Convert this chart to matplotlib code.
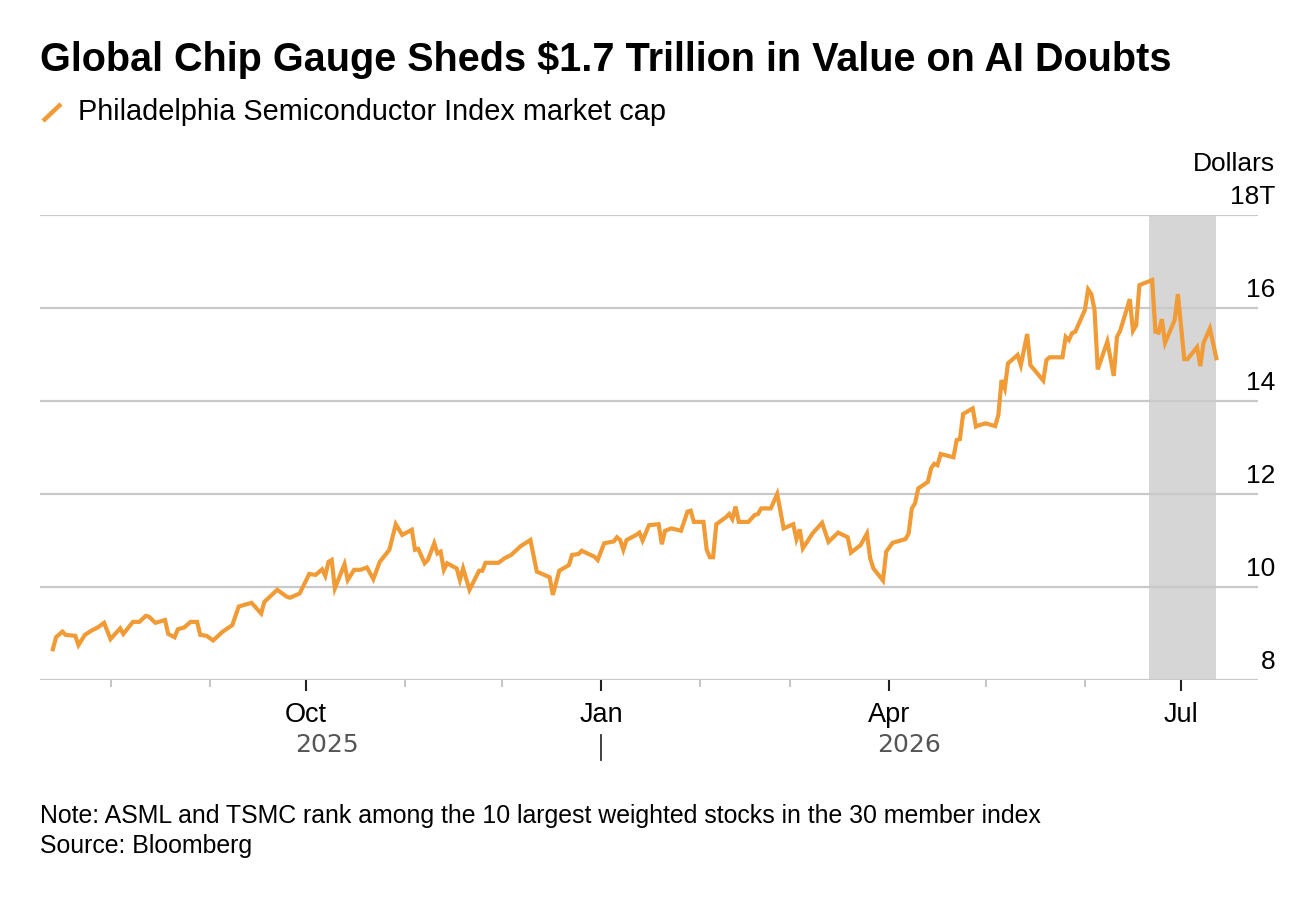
import matplotlib
matplotlib.use('Agg')
import matplotlib.pyplot as plt
import matplotlib.dates as mdates
import matplotlib.transforms as mtransforms
from matplotlib.lines import Line2D
import pandas as pd

# values (trillions of dollars)
dates = [
    '2025-07-14', '2025-07-15', '2025-07-17', '2025-07-18', '2025-07-21', '2025-07-22', '2025-07-24',
    '2025-07-26', '2025-07-28', '2025-07-30', '2025-08-01', '2025-08-04', '2025-08-05', '2025-08-08',
    '2025-08-10', '2025-08-12', '2025-08-13', '2025-08-15', '2025-08-18', '2025-08-19', '2025-08-21',
    '2025-08-22', '2025-08-24', '2025-08-26', '2025-08-28', '2025-08-29', '2025-08-31', '2025-09-02',
    '2025-09-05', '2025-09-08', '2025-09-10', '2025-09-14', '2025-09-17', '2025-09-18', '2025-09-22',
    '2025-09-25', '2025-09-26', '2025-09-29', '2025-10-02', '2025-10-04', '2025-10-06', '2025-10-07',
    '2025-10-08', '2025-10-09', '2025-10-10', '2025-10-13', '2025-10-14', '2025-10-16', '2025-10-18',
    '2025-10-20', '2025-10-22', '2025-10-24', '2025-10-27', '2025-10-29', '2025-10-31', '2025-11-03',
    '2025-11-04', '2025-11-05', '2025-11-07', '2025-11-08', '2025-11-10', '2025-11-11', '2025-11-12',
    '2025-11-13', '2025-11-14', '2025-11-17', '2025-11-18', '2025-11-19', '2025-11-21', '2025-11-24',
    '2025-11-25', '2025-11-26', '2025-11-30', '2025-12-02', '2025-12-04', '2025-12-07', '2025-12-10',
    '2025-12-12', '2025-12-16', '2025-12-17', '2025-12-19', '2025-12-22', '2025-12-23', '2025-12-25',
    '2025-12-26', '2025-12-30', '2025-12-31', '2026-01-02', '2026-01-05', '2026-01-06', '2026-01-07',
    '2026-01-08', '2026-01-09', '2026-01-12', '2026-01-13', '2026-01-14', '2026-01-16', '2026-01-19',
    '2026-01-20', '2026-01-21', '2026-01-23', '2026-01-26', '2026-01-28', '2026-01-29', '2026-01-30',
    '2026-02-02', '2026-02-03', '2026-02-04', '2026-02-05', '2026-02-06', '2026-02-09', '2026-02-10',
    '2026-02-11', '2026-02-12', '2026-02-13', '2026-02-16', '2026-02-18', '2026-02-19', '2026-02-20',
    '2026-02-23', '2026-02-25', '2026-02-27', '2026-03-02', '2026-03-03', '2026-03-04', '2026-03-05',
    '2026-03-08', '2026-03-11', '2026-03-13', '2026-03-16', '2026-03-19', '2026-03-20', '2026-03-23',
    '2026-03-25', '2026-03-26', '2026-03-27', '2026-03-30', '2026-03-31', '2026-04-02', '2026-04-06',
    '2026-04-07', '2026-04-08', '2026-04-09', '2026-04-10', '2026-04-13', '2026-04-14', '2026-04-15',
    '2026-04-16', '2026-04-17', '2026-04-21', '2026-04-22', '2026-04-23', '2026-04-24', '2026-04-27',
    '2026-04-28', '2026-04-29', '2026-05-01', '2026-05-04', '2026-05-05', '2026-05-06', '2026-05-07',
    '2026-05-08', '2026-05-11', '2026-05-12', '2026-05-14', '2026-05-15', '2026-05-19', '2026-05-20',
    '2026-05-21', '2026-05-25', '2026-05-26', '2026-05-27', '2026-05-28', '2026-05-29', '2026-06-01',
    '2026-06-02', '2026-06-03', '2026-06-04', '2026-06-05', '2026-06-08', '2026-06-10', '2026-06-11',
    '2026-06-12', '2026-06-15', '2026-06-16', '2026-06-17', '2026-06-18', '2026-06-19', '2026-06-22',
    '2026-06-23', '2026-06-24', '2026-06-25', '2026-06-26', '2026-06-29', '2026-06-30', '2026-07-02',
    '2026-07-03', '2026-07-06', '2026-07-07', '2026-07-08', '2026-07-10', '2026-07-12',
]
values = [
    8.66, 8.92, 9.04, 8.97, 8.95, 8.75, 8.97,
    9.06, 9.13, 9.23, 8.88, 9.11, 8.99, 9.25,
    9.25, 9.38, 9.36, 9.23, 9.29, 8.99, 8.92,
    9.09, 9.13, 9.25, 9.25, 8.97, 8.95, 8.85,
    9.04, 9.18, 9.58, 9.66, 9.43, 9.68, 9.94,
    9.79, 9.77, 9.86, 10.28, 10.26, 10.38, 10.24,
    10.54, 10.58, 9.97, 10.49, 10.15, 10.37, 10.37,
    10.42, 10.17, 10.54, 10.80, 11.35, 11.12, 11.23,
    10.80, 10.82, 10.51, 10.58, 10.94, 10.72, 10.76,
    10.37, 10.51, 10.40, 10.15, 10.40, 9.94, 10.35,
    10.35, 10.52, 10.52, 10.62, 10.69, 10.88, 11.01,
    10.33, 10.21, 9.83, 10.35, 10.47, 10.69, 10.71,
    10.78, 10.65, 10.58, 10.94, 10.98, 11.07, 11.01,
    10.80, 11.01, 11.12, 11.17, 11.00, 11.33, 11.35,
    10.92, 11.21, 11.26, 11.21, 11.62, 11.64, 11.40,
    11.40, 10.80, 10.64, 10.64, 11.35, 11.50, 11.57,
    11.46, 11.73, 11.40, 11.40, 11.55, 11.57, 11.69,
    11.69, 12.00, 11.26, 11.35, 11.03, 11.24, 10.83,
    11.15, 11.38, 10.97, 11.17, 11.07, 10.74, 10.90,
    11.15, 10.62, 10.40, 10.14, 10.76, 10.95, 11.03,
    11.15, 11.69, 11.80, 12.12, 12.26, 12.55, 12.65,
    12.62, 12.86, 12.79, 13.16, 13.18, 13.72, 13.84,
    13.45, 13.48, 13.52, 13.46, 13.70, 14.45, 14.27,
    14.81, 14.99, 14.77, 15.44, 14.77, 14.44, 14.88,
    14.94, 14.94, 15.38, 15.31, 15.46, 15.49, 15.96,
    16.40, 16.30, 15.96, 14.68, 15.28, 14.54, 15.38,
    15.51, 16.19, 15.51, 15.63, 16.49, 16.52, 16.60,
    15.49, 15.47, 15.76, 15.25, 15.74, 16.30, 14.90,
    14.90, 15.16, 14.75, 15.25, 15.56, 14.92,
]

shade_start = '2026-06-21'
shade_end = '2026-07-12'
y_ticks = [8, 10, 12, 14, 16, 18]
y_labels = ['8', '10', '12', '14', '16', '18T']
major_months = ['2025-10-01', '2026-01-01', '2026-04-01', '2026-07-01']
major_labels = ['Oct', 'Jan', 'Apr', 'Jul']
years = ['2025', '2026']

orange = '#F09B36'
grid_col = '#c9c9c9'

plt.rcParams['font.family'] = ['Liberation Sans', 'DejaVu Sans']

W, H = 1294, 902
fig = plt.figure(figsize=(W / 100, H / 100), dpi=100)
ax = fig.add_axes([40 / W, 1 - 680 / H, 1218 / W, 465 / H])

x = pd.to_datetime(dates)
ax.axvspan(pd.Timestamp(shade_start), pd.Timestamp(shade_end), color='#d6d6d6', lw=0, zorder=0)
for v in y_ticks:
    ax.axhline(v, color=grid_col, lw=1.6, zorder=1)
ax.plot(x, values, color=orange, lw=3.0, solid_joinstyle='miter', zorder=3)

ax.set_xlim(pd.Timestamp('2025-07-10'), pd.Timestamp('2026-07-25'))
ax.set_ylim(8, 18)
for s in ax.spines.values():
    s.set_visible(False)
ax.set_yticks([])

# month ticks
ax.set_xticks(pd.to_datetime(major_months))
ax.set_xticklabels(major_labels, fontsize=19.5)
ax.set_xticks(pd.date_range('2025-08-01', '2026-07-01', freq='MS'), minor=True)
ax.tick_params(axis='x', which='major', length=8, width=1.5, color='#222222', pad=8)
ax.tick_params(axis='x', which='minor', length=5, width=1.2, color='#bbbbbb')

# y labels sit above their gridlines at the right
tr = mtransforms.blended_transform_factory(ax.transAxes, ax.transData)
tr_lab = mtransforms.offset_copy(tr, fig=fig, x=0, y=11, units='dots')
for v, lab in zip(y_ticks, y_labels):
    ax.text(1.014, v, lab, transform=tr_lab, ha='right', va='baseline', fontsize=19)
tr_dol = mtransforms.offset_copy(tr, fig=fig, x=0, y=44, units='dots')
ax.text(1.014, 18, 'Dollars', transform=tr_dol, ha='right', va='baseline', fontsize=19)

# year labels centred on each year's data, divider under Jan
trx = mtransforms.blended_transform_factory(ax.transData, ax.transAxes)
x25 = x[x.year == 2025]
x26 = x[x.year == 2026]
jan = mdates.date2num(pd.Timestamp('2026-01-01'))
mid25 = (mdates.date2num(x25[0]) + jan) / 2
mid26 = (jan + mdates.date2num(x26[-1])) / 2
for xm, yr in zip([mid25, mid26], years):
    ax.text(xm, -0.14, yr, transform=trx, ha='center', va='center', fontsize=18,
            color='#555555', family='DejaVu Sans')
ax.plot([jan, jan], [-0.118, -0.172], transform=trx, color='#333333', lw=1.3, clip_on=False)

# header
fig.text(40 / W, 1 - 60 / H, 'Global Chip Gauge Sheds $1.7 Trillion in Value on AI Doubts',
         fontsize=28.5, weight='bold', va='center', ha='left')
fig.add_artist(Line2D([43 / W, 61 / W], [1 - 121 / H, 1 - 104 / H], color=orange, lw=3.2,
                      solid_capstyle='butt', transform=fig.transFigure))
fig.text(78 / W, 1 - 112 / H, 'Philadelphia Semiconductor Index market cap',
         fontsize=20.8, va='center', ha='left')

# footer
fig.text(40 / W, 1 - 816 / H,
         'Note: ASML and TSMC rank among the 10 largest weighted stocks in the 30 member index',
         fontsize=17.9, va='center', ha='left')
fig.text(40 / W, 1 - 846 / H, 'Source: Bloomberg', fontsize=17.9, va='center', ha='left')

fig.savefig('out.png', dpi=100, facecolor='white')
